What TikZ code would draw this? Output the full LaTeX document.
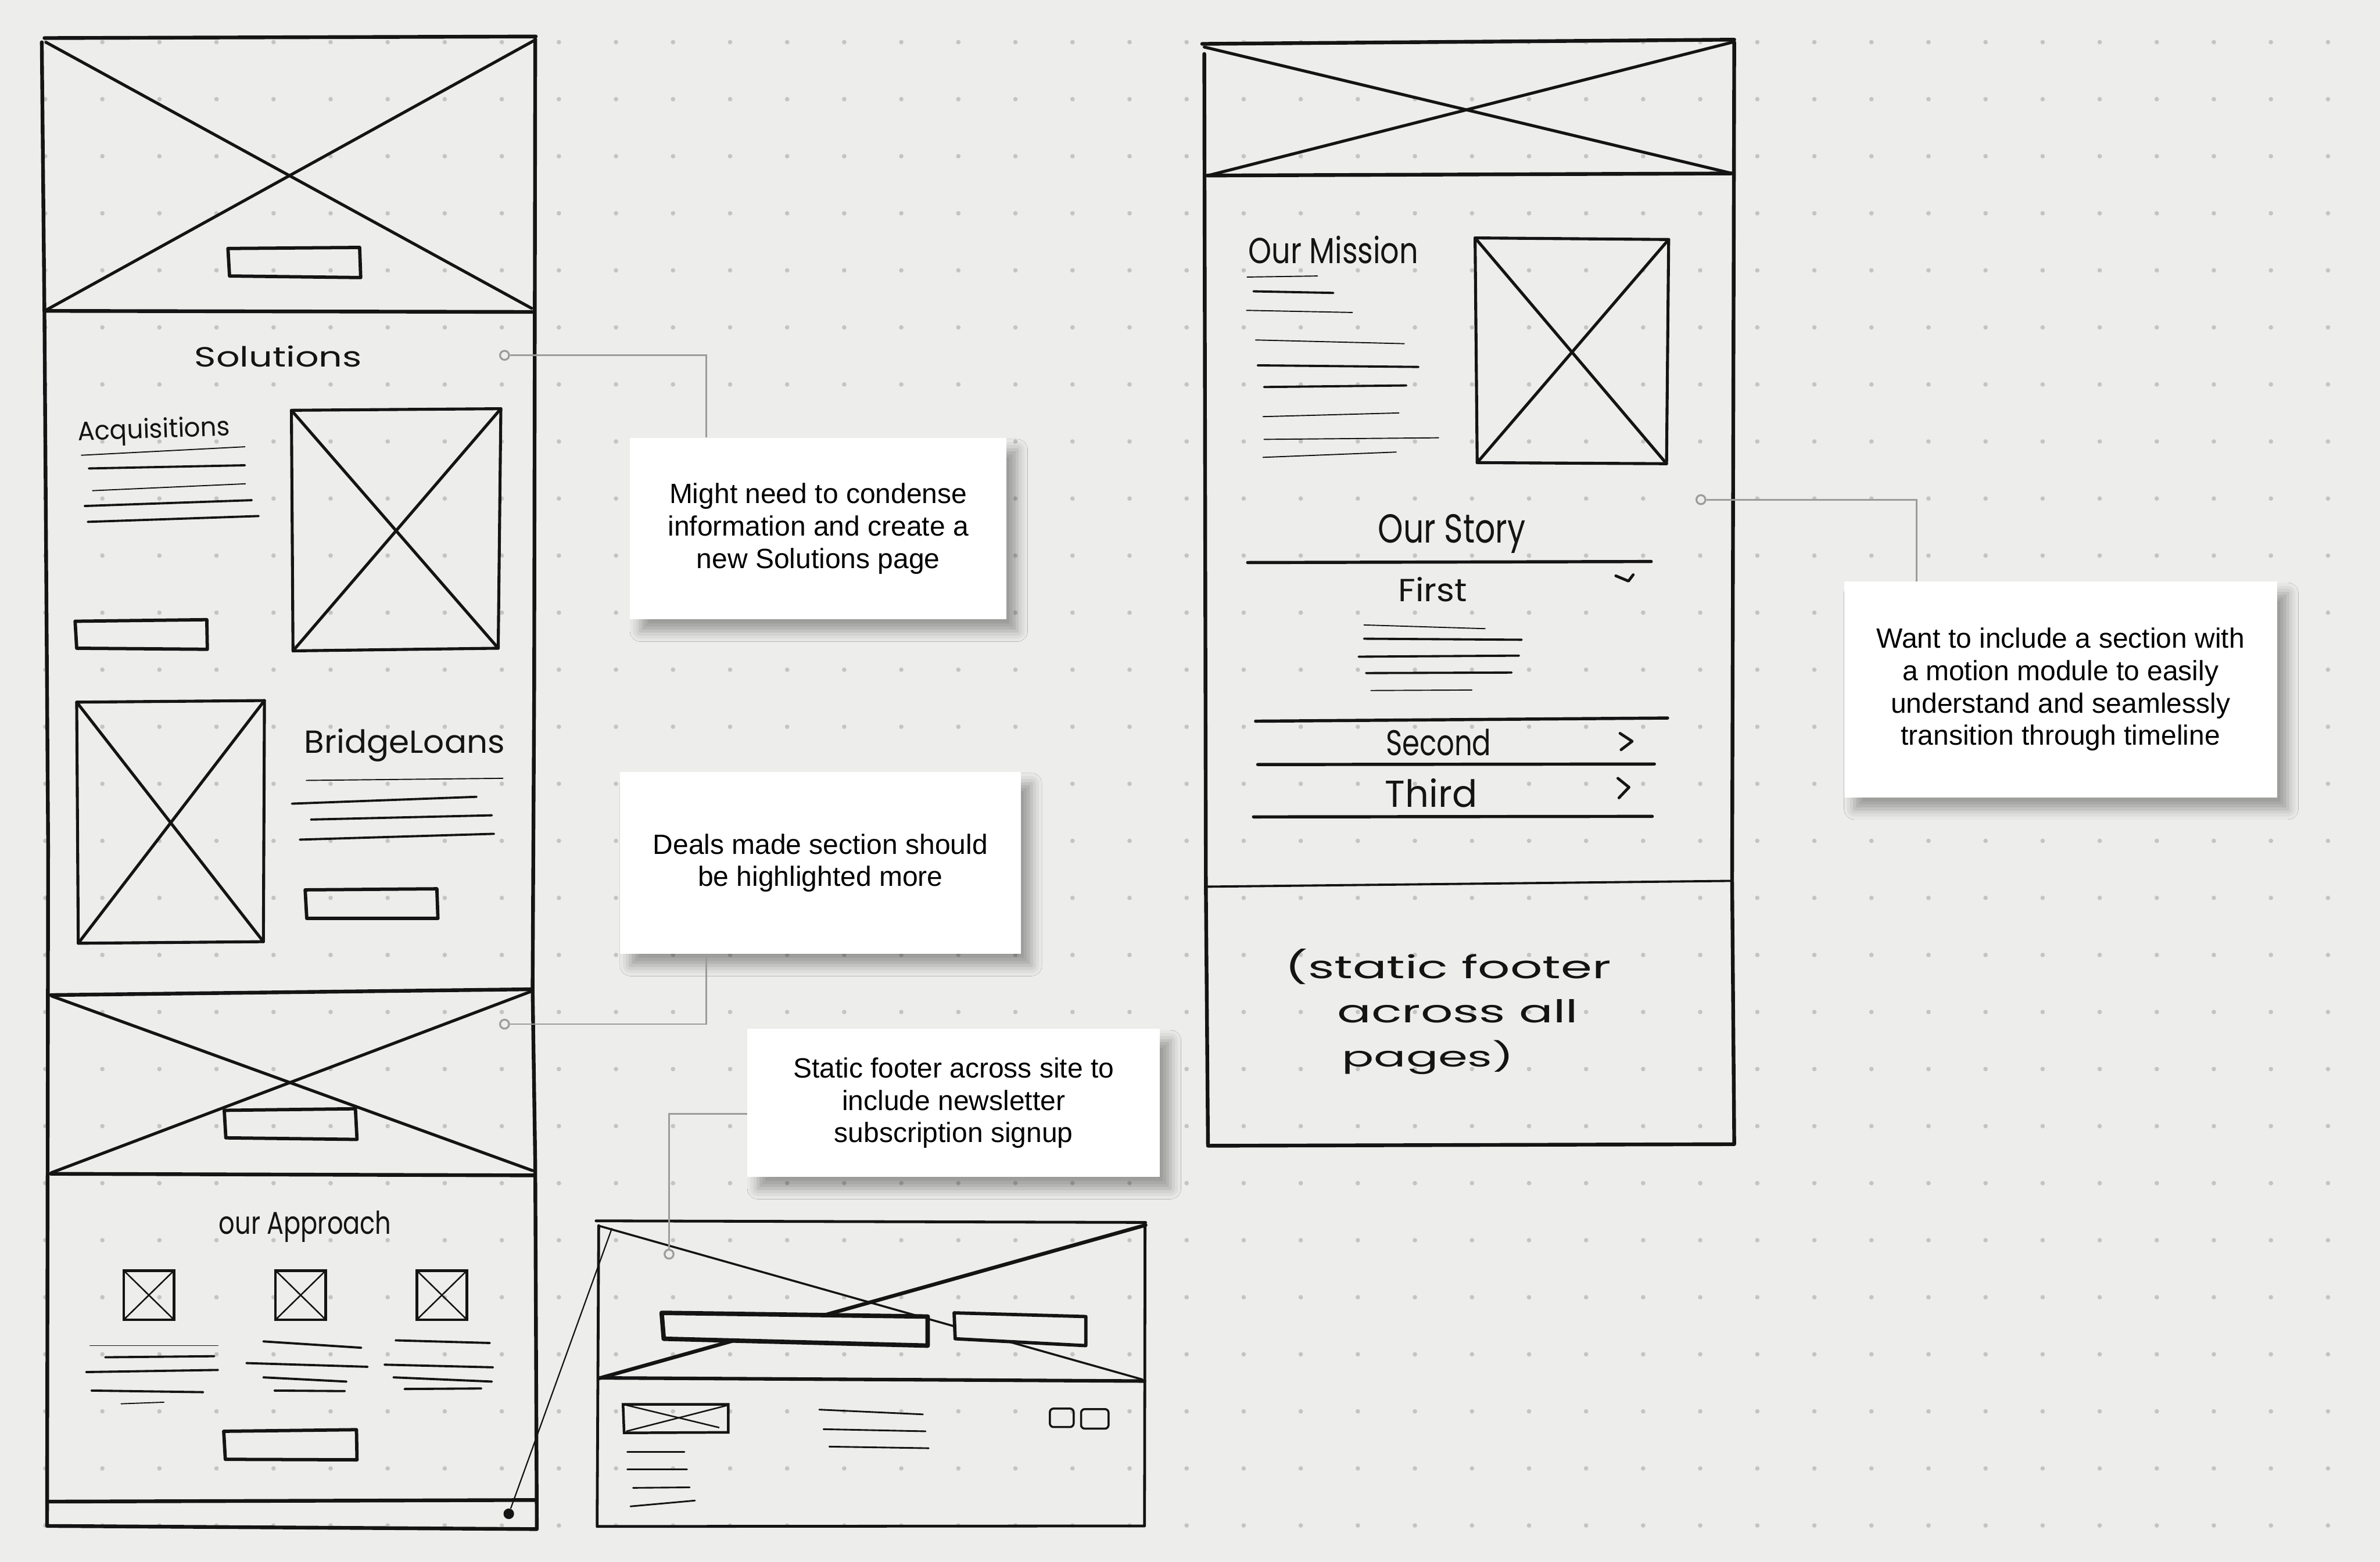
\documentclass[tikz,border=0pt]{standalone}
\usepackage{graphicx}
\usepackage{fontspec}
\setmainfont{Liberation Sans}
\newfontfamily\handfont{Poppins}
\usetikzlibrary{positioning,shadows.blur}

\definecolor{paper}{HTML}{EDEDEB}
\definecolor{dotgray}{HTML}{C4C4C4}
\definecolor{ink}{HTML}{141414}
\definecolor{linkgray}{HTML}{9C9C9C}

\newcommand{\handtext}[3]{\resizebox{#1}{#2}{\handfont #3}}

\begin{document}
\begin{tikzpicture}[
  x=1cm, y=-1cm,
  pageframe/.style={draw=ink, line width=2pt, line cap=round, line join=round},
  footframe/.style={draw=ink, line width=1.5pt, line cap=round, line join=round},
  imgx/.style={draw=ink, line width=1.6pt, line cap=round, line join=round},
  btn/.style={draw=ink, line width=1.8pt, line join=round},
  smallbox/.style={draw=ink, line width=1.4pt},
  smallx/.style={draw=ink, line width=0.8pt},
  txtline/.style={draw=ink, line width=1.2pt, line cap=round},
  thinline/.style={draw=ink, line width=0.6pt, line cap=round},
  divline/.style={draw=ink, line width=1.7pt, line cap=round},
  chevron/.style={draw=ink, line width=1.5pt, line cap=round, line join=round},
  hand/.style={text=ink, inner sep=0pt},
  note/.style={fill=white, inner sep=0pt, align=center, text=black,
    font=\fontsize{15}{17.4}\selectfont,
    blur shadow={shadow xshift=0.2cm, shadow yshift=-0.22cm, shadow blur radius=0.2cm, shadow opacity=35}},
  tack/.style={circle, draw=linkgray, fill=paper, line width=1pt, minimum size=0.17cm, inner sep=0pt},
  connector/.style={draw=linkgray, line width=0.85pt},
  footdotstyle/.style={circle, fill=ink, minimum size=0.2cm, inner sep=0pt},
  pointer/.style={draw=ink, line width=0.7pt}
]

  % Background and dot grid
  \fill[paper] (0,0) rectangle (45,29.54);
  \useasboundingbox (0,0) rectangle (45,29.54);
  \foreach \i in {0,...,40}
    \foreach \j in {0,...,26}
      \fill[dotgray] ({0.856+1.079*\i},{0.797+1.079*\j}) circle[radius=0.42mm];

  % Page A: home page
  \draw[pageframe] (0.84,0.72) -- (10.13,0.69);
  \draw[pageframe] (0.79,0.80) -- (0.84,5.90) -- (0.91,16.0) -- (0.89,28.86) -- (10.15,28.92)
    -- (10.12,22.0) -- (10.07,18.7) -- (10.10,13.0) -- (10.12,0.74);
  \draw[pageframe] (0.84,5.88) -- (10.10,5.90);
  \draw[imgx] (0.87,0.80) -- (10.05,5.83);
  \draw[imgx] (10.11,0.76) -- (0.88,5.86);
  \draw[btn] (4.31,4.70) -- (6.80,4.68) -- (6.82,5.25) -- (4.34,5.22) -- cycle;

  \node[hand] (solutions) at (5.26,6.74) {\handtext{3.16cm}{0.40cm}{Solutions}};

  % Acquisitions block
  \node[hand, rotate=2] (acqtitle) at (2.91,8.16) {\handtext{2.88cm}{0.38cm}{Acquisitions}};
  \draw[thinline] (1.54,8.61) -- (4.63,8.45);
  \draw[txtline] (1.68,8.86) -- (4.63,8.80);
  \draw[thinline] (1.75,9.28) -- (4.64,9.15);
  \draw[txtline] (1.60,9.57) -- (4.76,9.46);
  \draw[txtline] (1.66,9.87) -- (4.89,9.76);
  \draw[imgx] (5.51,7.76) -- (9.47,7.73) -- (9.42,12.26) -- (5.54,12.31) -- cycle;
  \draw[imgx] (5.51,7.76) -- (9.42,12.26);
  \draw[imgx] (9.47,7.73) -- (5.54,12.31);
  \draw[btn] (1.42,11.75) -- (3.91,11.72) -- (3.92,12.28) -- (1.45,12.26) -- cycle;

  % Bridge loans block
  \draw[imgx] (1.45,13.28) -- (5.00,13.25) -- (4.98,17.81) -- (1.48,17.84) -- cycle;
  \draw[imgx] (1.45,13.28) -- (4.98,17.81);
  \draw[imgx] (5.00,13.25) -- (1.48,17.84);
  \node[hand] (bltitle) at (7.65,14.09) {\handtext{3.79cm}{0.46cm}{BridgeLoans}};
  \draw[thinline] (5.79,14.76) -- (9.51,14.72);
  \draw[txtline] (5.52,15.20) -- (9.01,15.07);
  \draw[txtline] (5.88,15.50) -- (9.30,15.42);
  \draw[txtline] (5.67,15.88) -- (9.34,15.77);
  \draw[btn] (5.77,16.83) -- (8.26,16.81) -- (8.28,17.37) -- (5.80,17.37) -- cycle;

  % Deals section
  \draw[pageframe] (0.96,18.82) -- (10.05,18.71);
  \draw[imgx] (0.98,18.84) -- (10.07,22.14);
  \draw[imgx] (10.07,18.74) -- (0.97,22.18);
  \draw[pageframe] (0.96,22.20) -- (10.10,22.23);
  \draw[btn] (4.24,21.00) -- (6.72,20.97) -- (6.75,21.55) -- (4.27,21.52) -- cycle;

  % Our approach section
  \node[hand] (approach) at (5.77,23.20) {\handtext{3.26cm}{0.44cm}{our Approach}};
  \foreach \bx in {2.34,5.21,7.88}{
    \draw[smallbox] (\bx,24.03) rectangle ({\bx+0.95},24.96);
    \draw[smallx] (\bx,24.03) -- ({\bx+0.95},24.96);
    \draw[smallx] ({\bx+0.95},24.03) -- (\bx,24.96);
  }
  \draw[thinline] (1.70,25.45) -- (4.12,25.45);
  \draw[txtline] (1.99,25.67) -- (4.05,25.65);
  \draw[txtline] (1.63,25.95) -- (4.12,25.91);
  \draw[txtline] (1.73,26.30) -- (3.84,26.33);
  \draw[thinline] (2.29,26.55) -- (3.10,26.52);
  \draw[txtline] (4.98,25.37) -- (6.83,25.49);
  \draw[txtline] (4.66,25.78) -- (6.95,25.85);
  \draw[txtline] (4.98,26.05) -- (6.55,26.13);
  \draw[txtline] (5.19,26.30) -- (6.52,26.31);
  \draw[txtline] (7.48,25.35) -- (9.26,25.40);
  \draw[txtline] (7.27,25.81) -- (9.32,25.86);
  \draw[txtline] (7.44,26.05) -- (9.30,26.13);
  \draw[txtline] (7.65,26.27) -- (9.10,26.26);
  \draw[btn] (4.23,27.07) -- (6.74,27.04) -- (6.75,27.61) -- (4.26,27.60) -- cycle;
  \draw[pageframe] (0.89,28.40) -- (10.12,28.37);

  % Page C: footer close-up
  \draw[footframe] (11.27,23.09) -- (21.66,23.12);
  \draw[footframe] (11.32,23.18) -- (11.29,28.87) -- (21.64,28.86) -- (21.65,23.12);
  \draw[footframe, line width=1.9pt] (11.32,26.06) -- (21.64,26.12);
  \draw[imgx, line width=1.1pt] (11.31,23.18) -- (21.60,26.09);
  \draw[imgx, line width=2pt] (21.66,23.17) -- (11.32,26.07);
  \draw[btn, fill=paper, line width=2.4pt] (12.51,24.83) -- (17.54,24.90) -- (17.54,25.45) -- (12.55,25.32) -- cycle;
  \draw[btn, fill=paper] (18.04,24.83) -- (20.53,24.90) -- (20.53,25.45) -- (18.06,25.32) -- cycle;
  \draw[smallbox] (11.78,26.56) -- (13.77,26.56) -- (13.77,27.09) -- (11.80,27.10) -- cycle;
  \draw[smallx] (11.78,26.56) -- (13.60,27.00);
  \draw[smallx] (13.75,26.58) -- (11.84,27.07);
  \draw[thinline, line width=0.9pt] (11.86,27.46) -- (12.94,27.46);
  \draw[thinline, line width=0.9pt] (11.86,27.79) -- (12.99,27.79);
  \draw[thinline, line width=0.9pt] (11.97,28.14) -- (13.04,28.13);
  \draw[thinline, line width=0.9pt] (11.92,28.49) -- (13.14,28.38);
  \draw[thinline, line width=0.9pt] (15.49,26.66) -- (17.45,26.75);
  \draw[thinline, line width=0.9pt] (15.57,27.03) -- (17.50,27.07);
  \draw[thinline, line width=0.9pt] (15.68,27.36) -- (17.56,27.39);
  \draw[smallbox, line width=1.1pt, rounded corners=2pt] (19.85,26.64) rectangle (20.30,26.99);
  \draw[smallbox, line width=1.1pt, rounded corners=2pt] (20.44,26.65) rectangle (20.96,27.02);

  % Footer pointer from page A
  \node[footdotstyle] (footdot) at (9.62,28.63) {};
  \coordinate (footend) at (11.57,23.23);
  \draw[pointer] (footdot) -- (footend);

  % Page B: about page
  \draw[pageframe] (22.73,0.83) -- (32.79,0.75);
  \draw[pageframe] (22.77,1.02) -- (22.80,16.77) -- (22.84,21.67) -- (32.79,21.64) -- (32.75,16.64) -- (32.79,0.80);
  \draw[pageframe] (22.83,3.32) -- (32.75,3.28);
  \draw[imgx] (22.77,0.89) -- (32.75,3.28);
  \draw[imgx] (32.75,0.80) -- (22.84,3.32);

  \node[hand] (mission) at (25.21,4.73) {\handtext{3.21cm}{0.52cm}{Our Mission}};
  \draw[thinline] (23.58,5.24) -- (24.91,5.22);
  \draw[txtline] (23.70,5.51) -- (25.21,5.54);
  \draw[thinline] (23.57,5.87) -- (25.57,5.91);
  \draw[thinline] (23.74,6.43) -- (26.55,6.50);
  \draw[txtline] (23.78,6.91) -- (26.82,6.94);
  \draw[txtline] (23.90,7.32) -- (26.59,7.29);
  \draw[thinline] (23.88,7.88) -- (26.45,7.81);
  \draw[thinline] (23.90,8.31) -- (27.20,8.28);
  \draw[thinline] (23.88,8.65) -- (26.40,8.55);
  \draw[imgx] (27.89,4.50) -- (31.55,4.53) -- (31.51,8.77) -- (27.93,8.75) -- cycle;
  \draw[imgx] (27.89,4.50) -- (31.51,8.77);
  \draw[imgx] (31.55,4.53) -- (27.93,8.75);

  % Timeline accordion
  \node[hand] (story) at (27.45,10.10) {\handtext{2.79cm}{0.54cm}{Our Story}};
  \draw[divline] (23.59,10.64) -- (31.22,10.62);
  \node[hand] (first) at (27.09,11.15) {\handtext{1.30cm}{0.46cm}{First}};
  \draw[chevron] (30.55,10.89) -- (30.79,10.99) -- (30.88,10.87);
  \draw[thinline] (25.79,11.82) -- (28.08,11.89);
  \draw[txtline] (25.79,12.08) -- (28.77,12.10);
  \draw[txtline] (25.69,12.42) -- (28.72,12.40);
  \draw[txtline] (25.83,12.73) -- (28.58,12.72);
  \draw[thinline] (25.92,13.06) -- (27.83,13.05);
  \draw[divline] (23.74,13.64) -- (31.53,13.58);
  \node[hand] (second) at (27.20,14.04) {\handtext{1.99cm}{0.50cm}{Second}};
  \draw[chevron] (30.63,13.87) -- (30.86,14.02) -- (30.65,14.18);
  \draw[divline] (23.78,14.46) -- (31.28,14.45);
  \node[hand] (third) at (27.06,15.00) {\handtext{1.74cm}{0.54cm}{Third}};
  \draw[chevron] (30.59,14.72) -- (30.80,14.89) -- (30.61,15.09);
  \draw[divline] (23.70,15.45) -- (31.24,15.44);

  % Page B footer
  \draw[txtline] (22.80,16.77) -- (32.75,16.66);
  \node[hand] (footl1) at (27.38,18.28) {\handtext{6.16cm}{0.56cm}{(static footer}};
  \node[hand] (footl2) at (27.56,19.12) {\handtext{4.55cm}{0.44cm}{across all}};
  \node[hand] (footl3) at (27.00,20.00) {\handtext{3.25cm}{0.50cm}{pages)}};

  % Notes
  \node[note, minimum width=7.12cm, minimum height=3.43cm] (note1) at (15.47,10.00)
    {Might need to condense\\information and create a\\new Solutions page};
  \node[note, minimum width=7.58cm, minimum height=3.44cm] (note2) at (15.51,16.32)
    {Deals made section should\\be highlighted more};
  \node[note, minimum width=7.80cm, minimum height=2.80cm] (note3) at (18.03,20.86)
    {Static footer across site to\\include newsletter\\subscription signup};
  \node[note, minimum width=8.19cm, minimum height=4.08cm] (note4) at (38.96,13.04)
    {Want to include a section with\\a motion module to easily\\understand and seamlessly\\transition through timeline};

  % Pins and connectors
  \node[tack] (pin1) at (9.54,6.72) {};
  \node[tack] (pin2) at (9.54,19.37) {};
  \node[tack] (pin3) at (12.65,23.72) {};
  \node[tack] (pin4) at (32.16,9.45) {};

  \draw[connector] (pin1) -| ([xshift=1.45cm]note1.north west);
  \draw[connector] (pin2) -| ([xshift=1.64cm]note2.south west);
  \draw[connector] ([yshift=-0.21cm]note3.west) -| (pin3);
  \draw[connector] (pin4) -| ([xshift=1.38cm]note4.north west);

\end{tikzpicture}
\end{document}
